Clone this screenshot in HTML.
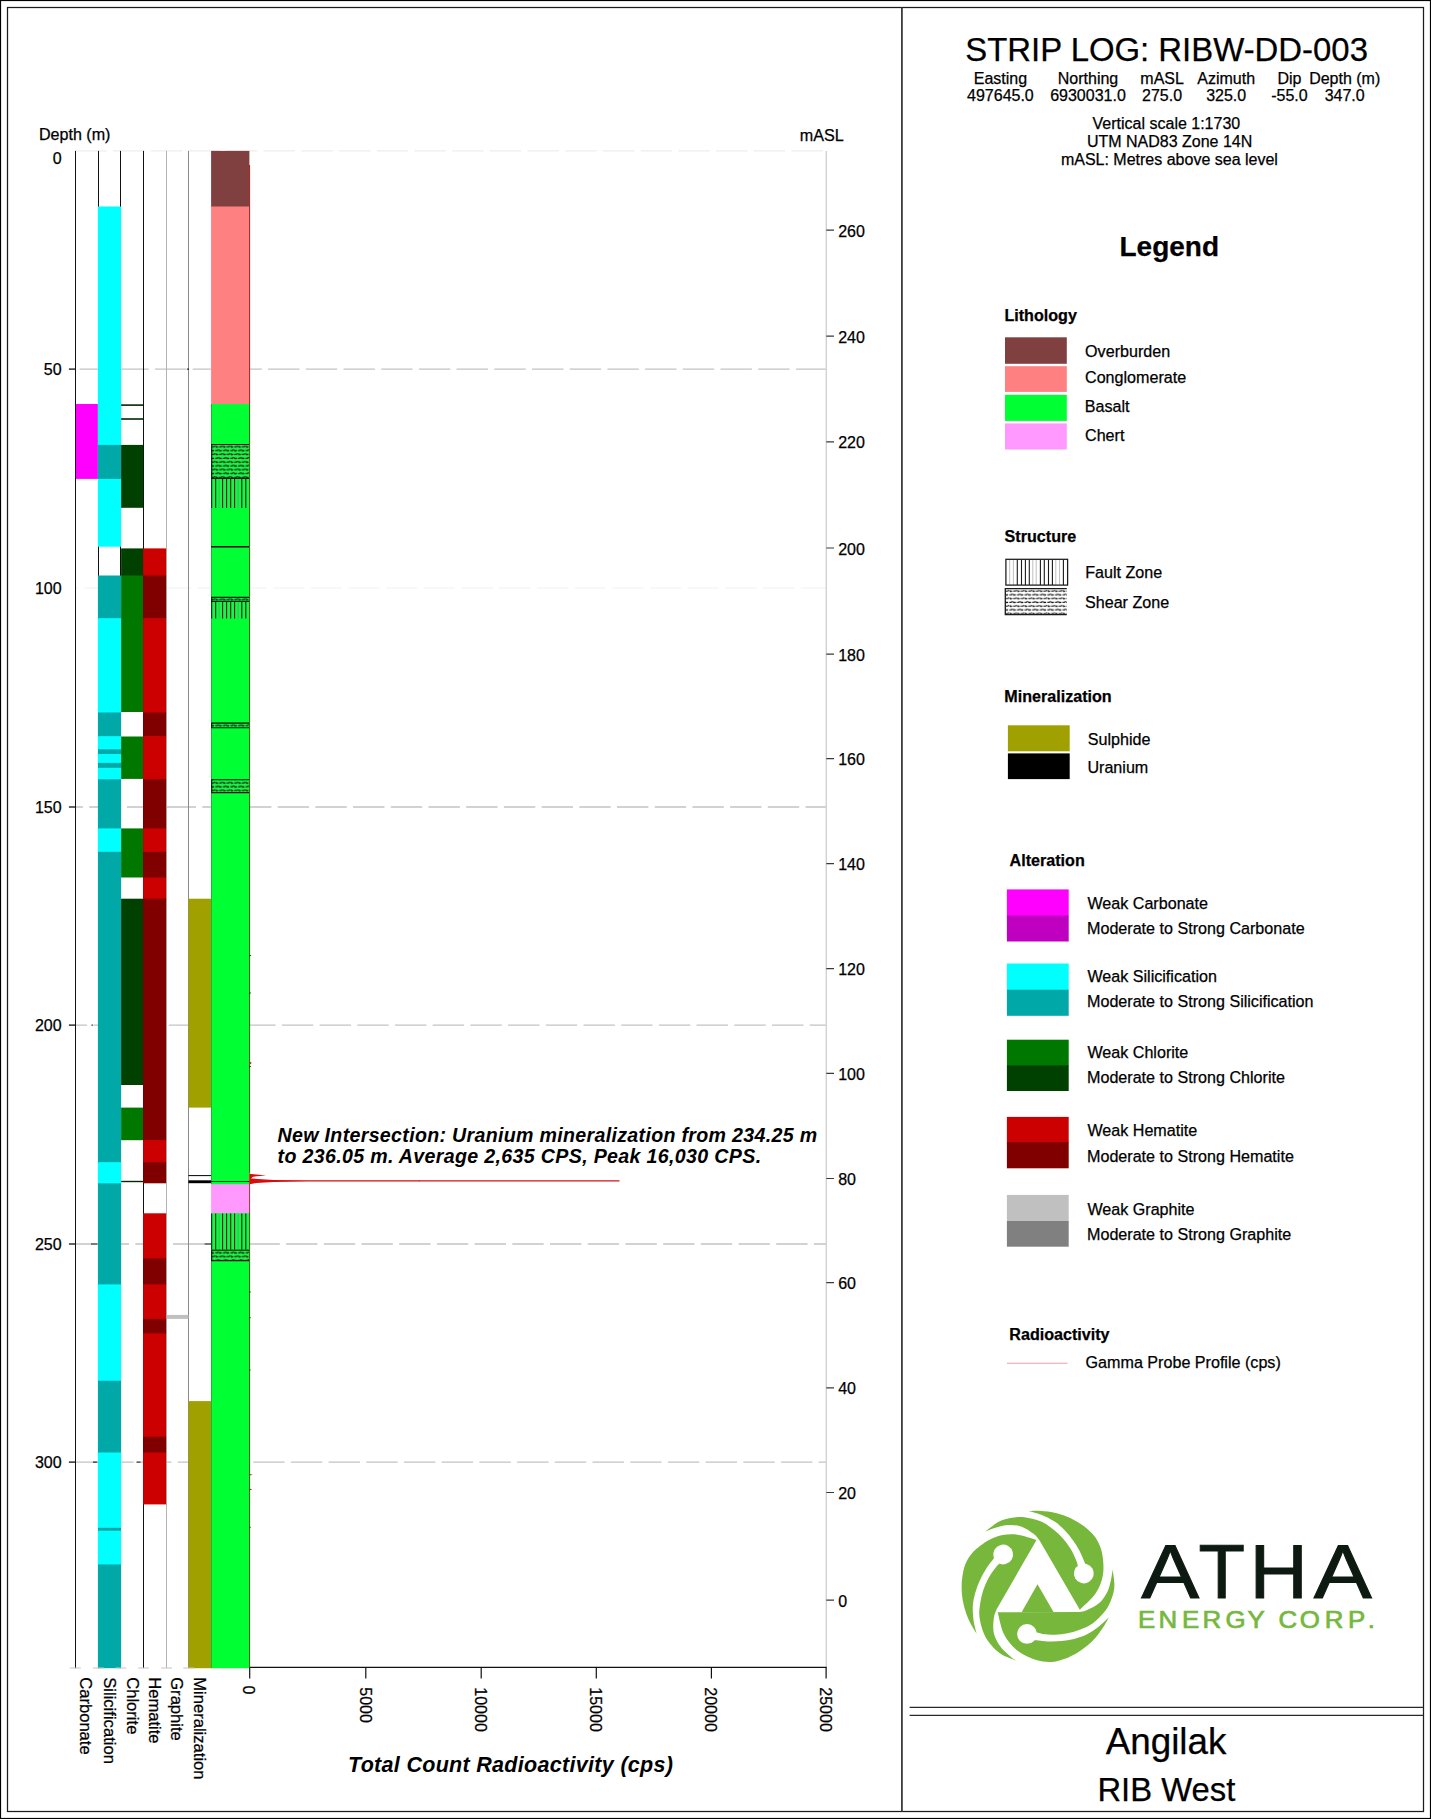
<!DOCTYPE html>
<html lang="en"><head><meta charset="utf-8"><title>STRIP LOG: RIBW-DD-003</title>
<style>html,body{margin:0;padding:0;background:#fff}body{width:1431px;height:1819px;overflow:hidden}svg{display:block}</style>
</head><body>
<svg width="1431" height="1819" viewBox="0 0 1431 1819">
<rect width="1431" height="1819" fill="#fff"/>
<defs>
<clipPath id="cg"><rect x="75.6" y="0" width="751" height="1819"/></clipPath>
<pattern id="shearP" patternUnits="userSpaceOnUse" x="211.1" y="444.6" width="7.6" height="7.64">
<path d="M0.4 2.3L2.8 2.0L3.6 1.3M4.4 1.4L5.2 2.4L7.0 2.3M0.2 5.4L1.0 6.2L3.0 6.1M4.2 6.1L6.4 5.8L7.2 5.1" stroke="#001500" stroke-width="1.2" fill="none"/>
</pattern>
<pattern id="shearL" patternUnits="userSpaceOnUse" x="1005.2" y="588.9" width="7.6" height="7.52">
<path d="M0.4 2.3L2.8 2.0L3.6 1.3M4.4 1.4L5.2 2.4L7.0 2.3M0.2 5.3L1.0 6.1L3.0 6.0M4.2 6.0L6.4 5.7L7.2 5.0" stroke="#111" stroke-width="1.2" fill="none"/>
</pattern>
</defs>
<g id="grid" fill="none">
<line x1="37.5" y1="150.9" x2="826" y2="150.9" stroke="#ededed" stroke-width="1.3" stroke-dasharray="31.4 6.3" clip-path="url(#cg)"/>
<line x1="41.9" y1="369.1" x2="826" y2="369.1" stroke="#c4c4c4" stroke-width="1.3" stroke-dasharray="31.4 6.3" clip-path="url(#cg)"/>
<line x1="46.7" y1="588.0" x2="826" y2="588.0" stroke="#f6f6f6" stroke-width="1.3" stroke-dasharray="31.4 6.3" clip-path="url(#cg)"/>
<line x1="51.5" y1="807.0" x2="826" y2="807.0" stroke="#c4c4c4" stroke-width="1.3" stroke-dasharray="31.4 6.3" clip-path="url(#cg)"/>
<line x1="55.7" y1="1025.1" x2="826" y2="1025.1" stroke="#c4c4c4" stroke-width="1.3" stroke-dasharray="31.4 6.3" clip-path="url(#cg)"/>
<line x1="59.9" y1="1244.0" x2="826" y2="1244.0" stroke="#c4c4c4" stroke-width="1.3" stroke-dasharray="31.4 6.3" clip-path="url(#cg)"/>
<line x1="64.7" y1="1462.1" x2="826" y2="1462.1" stroke="#c4c4c4" stroke-width="1.3" stroke-dasharray="31.4 6.3" clip-path="url(#cg)"/>
</g>
<g id="collines">
<line x1="75.5" y1="150.9" x2="75.5" y2="1668.2" stroke="#111" stroke-width="1"/>
<line x1="98.5" y1="150.9" x2="98.5" y2="1668.2" stroke="#111" stroke-width="1"/>
<line x1="120.5" y1="150.9" x2="120.5" y2="1668.2" stroke="#111" stroke-width="1"/>
<line x1="143.5" y1="150.9" x2="143.5" y2="1668.2" stroke="#111" stroke-width="1"/>
<line x1="166.5" y1="150.9" x2="166.5" y2="1668.2" stroke="#b4b4b4" stroke-width="1"/>
<line x1="188.5" y1="150.9" x2="188.5" y2="1668.2" stroke="#8a8a8a" stroke-width="1"/>
<line x1="826.3" y1="150.9" x2="826.3" y2="1668.2" stroke="#d2d2d2" stroke-width="1.4"/>
</g>
<g id="fills">
<rect x="75.90" y="404.00" width="22.00" height="74.90" fill="#FF00FF" stroke="none"/>
<rect x="97.90" y="206.50" width="23.20" height="239.10" fill="#00FFFF" stroke="none"/>
<rect x="97.90" y="444.90" width="23.20" height="34.70" fill="#00A8A8" stroke="none"/>
<rect x="97.90" y="478.90" width="23.20" height="67.80" fill="#00FFFF" stroke="none"/>
<rect x="97.90" y="575.50" width="23.20" height="43.40" fill="#00A8A8" stroke="none"/>
<rect x="97.90" y="618.20" width="23.20" height="95.00" fill="#00FFFF" stroke="none"/>
<rect x="97.90" y="712.50" width="23.20" height="24.40" fill="#00A8A8" stroke="none"/>
<rect x="97.90" y="736.20" width="23.20" height="13.80" fill="#00FFFF" stroke="none"/>
<rect x="97.90" y="749.30" width="23.20" height="5.40" fill="#00A8A8" stroke="none"/>
<rect x="97.90" y="754.00" width="23.20" height="9.60" fill="#00FFFF" stroke="none"/>
<rect x="97.90" y="762.90" width="23.20" height="5.60" fill="#00A8A8" stroke="none"/>
<rect x="97.90" y="767.80" width="23.20" height="12.20" fill="#00FFFF" stroke="none"/>
<rect x="97.90" y="779.30" width="23.20" height="49.80" fill="#00A8A8" stroke="none"/>
<rect x="97.90" y="828.40" width="23.20" height="24.10" fill="#00FFFF" stroke="none"/>
<rect x="97.90" y="851.80" width="23.20" height="311.10" fill="#00A8A8" stroke="none"/>
<rect x="97.90" y="1162.20" width="23.20" height="21.80" fill="#00FFFF" stroke="none"/>
<rect x="97.90" y="1183.30" width="23.20" height="101.80" fill="#00A8A8" stroke="none"/>
<rect x="97.90" y="1284.40" width="23.20" height="97.00" fill="#00FFFF" stroke="none"/>
<rect x="97.90" y="1380.70" width="23.20" height="72.50" fill="#00A8A8" stroke="none"/>
<rect x="97.90" y="1452.50" width="23.20" height="76.00" fill="#00FFFF" stroke="none"/>
<rect x="97.90" y="1527.80" width="23.20" height="3.60" fill="#00A8A8" stroke="none"/>
<rect x="97.90" y="1530.70" width="23.20" height="34.40" fill="#00FFFF" stroke="none"/>
<rect x="97.90" y="1564.40" width="23.20" height="103.80" fill="#00A8A8" stroke="none"/>
<rect x="121.10" y="404.30" width="22.00" height="1.60" fill="#002a00" stroke="none"/>
<rect x="121.10" y="418.20" width="22.00" height="1.60" fill="#002a00" stroke="none"/>
<rect x="121.10" y="444.90" width="22.00" height="62.90" fill="#004000" stroke="none"/>
<rect x="121.10" y="548.40" width="22.00" height="27.80" fill="#004000" stroke="none"/>
<rect x="121.10" y="575.50" width="22.00" height="136.50" fill="#007800" stroke="none"/>
<rect x="121.10" y="736.50" width="22.00" height="42.40" fill="#007800" stroke="none"/>
<rect x="121.10" y="828.40" width="22.00" height="49.10" fill="#007800" stroke="none"/>
<rect x="121.10" y="898.70" width="22.00" height="186.30" fill="#004000" stroke="none"/>
<rect x="121.10" y="1107.60" width="22.00" height="32.60" fill="#007800" stroke="none"/>
<rect x="121.10" y="1180.80" width="22.00" height="1.40" fill="#002a00" stroke="none"/>
<rect x="143.10" y="548.40" width="23.00" height="27.80" fill="#CC0000" stroke="none"/>
<rect x="143.10" y="575.50" width="23.00" height="43.40" fill="#800000" stroke="none"/>
<rect x="143.10" y="618.20" width="23.00" height="95.00" fill="#CC0000" stroke="none"/>
<rect x="143.10" y="712.50" width="23.00" height="24.40" fill="#800000" stroke="none"/>
<rect x="143.10" y="736.20" width="23.00" height="43.80" fill="#CC0000" stroke="none"/>
<rect x="143.10" y="779.30" width="23.00" height="49.80" fill="#800000" stroke="none"/>
<rect x="143.10" y="828.40" width="23.00" height="24.10" fill="#CC0000" stroke="none"/>
<rect x="143.10" y="851.80" width="23.00" height="26.40" fill="#800000" stroke="none"/>
<rect x="143.10" y="877.50" width="23.00" height="21.90" fill="#CC0000" stroke="none"/>
<rect x="143.10" y="898.70" width="23.00" height="242.20" fill="#800000" stroke="none"/>
<rect x="143.10" y="1140.20" width="23.00" height="22.70" fill="#CC0000" stroke="none"/>
<rect x="143.10" y="1162.20" width="23.00" height="21.10" fill="#800000" stroke="none"/>
<rect x="143.10" y="1213.30" width="23.00" height="45.80" fill="#CC0000" stroke="none"/>
<rect x="143.10" y="1258.40" width="23.00" height="26.70" fill="#800000" stroke="none"/>
<rect x="143.10" y="1284.40" width="23.00" height="35.20" fill="#CC0000" stroke="none"/>
<rect x="143.10" y="1318.90" width="23.00" height="15.10" fill="#800000" stroke="none"/>
<rect x="143.10" y="1333.30" width="23.00" height="104.10" fill="#CC0000" stroke="none"/>
<rect x="143.10" y="1436.70" width="23.00" height="16.50" fill="#800000" stroke="none"/>
<rect x="143.10" y="1452.50" width="23.00" height="51.90" fill="#CC0000" stroke="none"/>
<rect x="167.00" y="1314.90" width="21.40" height="4.00" fill="#C0C0C0" stroke="none"/>
<rect x="188.40" y="898.70" width="22.70" height="208.90" fill="#A0A000" stroke="none"/>
<rect x="188.40" y="1175.10" width="22.70" height="1.00" fill="#000" stroke="none"/>
<rect x="188.40" y="1180.30" width="22.70" height="2.90" fill="#000" stroke="none"/>
<rect x="188.40" y="1401.10" width="22.70" height="267.10" fill="#A0A000" stroke="none"/>
<rect x="211.10" y="150.90" width="38.30" height="56.30" fill="#804040" stroke="none"/>
<rect x="211.10" y="206.50" width="38.30" height="198.20" fill="#FF8080" stroke="none"/>
<rect x="211.10" y="404.00" width="38.30" height="780.90" fill="#00FF33" stroke="none"/>
<rect x="211.10" y="1184.20" width="38.30" height="30.00" fill="#FF99FF" stroke="none"/>
<rect x="211.10" y="1213.50" width="38.30" height="454.70" fill="#00FF33" stroke="none"/>
</g>
<g id="struct">
<path d="M211.5 404V1184M211.5 1213.5V1668.2" stroke="#0fa82c" stroke-width="0.8" fill="none"/>
<rect x="211.1" y="444.1" width="38.3" height="34.2" fill="#22f04a"/>
<rect x="211.1" y="444.1" width="38.3" height="34.2" fill="url(#shearP)"/>
<path d="M211.7 478.3V444.1M211.1 444.5H249.4" stroke="#021a05" stroke-width="1.1" fill="none"/>
<rect x="211.1" y="478.3" width="38.3" height="29.6" fill="#22f04a"/>
<path d="M211.7 478.3V507.9M215.7 478.3V507.9M222.6 478.3V507.9M226.6 478.3V507.9M230.7 478.3V507.9M234.6 478.3V507.9M241.8 478.3V507.9M245.8 478.3V507.9" stroke="#032a08" stroke-width="1.05" fill="none"/>
<path d="M219.0 478.3V507.9M238.1 478.3V507.9" stroke="#19c43a" stroke-width="0.8" fill="none"/>
<path d="M211.1 478.3H249.4" stroke="#021" stroke-width="1.3" fill="none"/>
<path d="M211.1 546.7H249.4" stroke="#010" stroke-width="1.6"/>
<rect x="211.1" y="597.0" width="38.3" height="4.3" fill="#22f04a"/>
<rect x="211.1" y="597.0" width="38.3" height="4.3" fill="url(#shearP)"/>
<path d="M211.7 601.3V597.0M211.1 597.4H249.4" stroke="#021a05" stroke-width="1.1" fill="none"/>
<rect x="211.1" y="601.3" width="38.3" height="17.1" fill="#22f04a"/>
<path d="M211.7 601.3V618.4M215.7 601.3V618.4M222.6 601.3V618.4M226.6 601.3V618.4M230.7 601.3V618.4M234.6 601.3V618.4M241.8 601.3V618.4M245.8 601.3V618.4" stroke="#032a08" stroke-width="1.05" fill="none"/>
<path d="M219.0 601.3V618.4M238.1 601.3V618.4" stroke="#19c43a" stroke-width="0.8" fill="none"/>
<path d="M211.1 601.3H249.4" stroke="#021" stroke-width="1.3" fill="none"/>
<rect x="211.1" y="722.7" width="38.3" height="5.3" fill="#22f04a"/>
<rect x="211.1" y="722.7" width="38.3" height="5.3" fill="url(#shearP)"/>
<path d="M211.7 728.0V722.7M211.1 723.1H249.4M211.1 727.7H249.4" stroke="#021a05" stroke-width="1.1" fill="none"/>
<rect x="211.1" y="779.3" width="38.3" height="13.6" fill="#22f04a"/>
<rect x="211.1" y="779.3" width="38.3" height="13.6" fill="url(#shearP)"/>
<path d="M211.7 792.9V779.3M211.1 779.7H249.4M211.1 792.6H249.4" stroke="#021a05" stroke-width="1.1" fill="none"/>
<rect x="211.1" y="1213.5" width="38.3" height="36.3" fill="#22f04a"/>
<path d="M211.7 1213.5V1249.8M215.7 1213.5V1249.8M222.6 1213.5V1249.8M226.6 1213.5V1249.8M230.7 1213.5V1249.8M234.6 1213.5V1249.8M241.8 1213.5V1249.8M245.8 1213.5V1249.8" stroke="#032a08" stroke-width="1.05" fill="none"/>
<path d="M219.0 1213.5V1249.8M238.1 1213.5V1249.8" stroke="#19c43a" stroke-width="0.8" fill="none"/>
<rect x="211.1" y="1249.8" width="38.3" height="11.1" fill="#22f04a"/>
<rect x="211.1" y="1249.8" width="38.3" height="11.1" fill="url(#shearP)"/>
<path d="M211.7 1260.9V1249.8M211.1 1250.2H249.4M211.1 1260.6H249.4" stroke="#021a05" stroke-width="1.1" fill="none"/>
<path d="M211.1 1181.5H249.4" stroke="#043a0a" stroke-width="1.2"/>
</g>
<g id="axes" fill="none">
<line x1="68.9" y1="369.1" x2="76" y2="369.1" stroke="#111" stroke-width="1.3"/>
<line x1="68.9" y1="807.0" x2="76" y2="807.0" stroke="#111" stroke-width="1.3"/>
<line x1="68.9" y1="1025.1" x2="76" y2="1025.1" stroke="#111" stroke-width="1.3"/>
<line x1="68.9" y1="1244.0" x2="76" y2="1244.0" stroke="#111" stroke-width="1.3"/>
<line x1="68.9" y1="1462.1" x2="76" y2="1462.1" stroke="#111" stroke-width="1.3"/>
<line x1="187" y1="369.1" x2="189" y2="369.1" stroke="#222" stroke-width="1.2"/>
<line x1="91.5" y1="1025.1" x2="92.8" y2="1025.1" stroke="#222" stroke-width="1.2"/>
<line x1="91" y1="1244.0" x2="97.5" y2="1244.0" stroke="#222" stroke-width="1.2"/>
<line x1="204.5" y1="1244.0" x2="211" y2="1244.0" stroke="#222" stroke-width="1.2"/>
<line x1="93" y1="1462.1" x2="97.5" y2="1462.1" stroke="#222" stroke-width="1.2"/>
<line x1="136.5" y1="1462.1" x2="140.5" y2="1462.1" stroke="#222" stroke-width="1.2"/>
<path d="M70.1 1668.0h10.8M93.0 1668.0h10.8M115.5 1668.0h10.8M138.2 1668.0h10.8M161.2 1668.0h10.8M183.3 1668.0h10.8" stroke="#c6c6c6" stroke-width="1.2"/>
<path d="M249.4 1667.3H826.6" stroke="#111" stroke-width="1.2"/>
<path d="M249.7 1667.2V1678.4M365.8 1667.2V1678.4M481.2 1667.2V1678.4M596.3 1667.2V1678.4M711.4 1667.2V1678.4M826.1 1667.2V1678.4" stroke="#111" stroke-width="1.2"/>
<path d="M826.3 230.2H834M826.3 336.2H834M826.3 441.9H834M826.3 548.0H834M826.3 654.1H834M826.3 758.7H834M826.3 863.6H834M826.3 968.7H834M826.3 1073.3H834M826.3 1178.5H834M826.3 1282.7H834M826.3 1387.9H834M826.3 1492.5H834M826.3 1600.1H834" stroke="#3a3a3a" stroke-width="1.2"/>
</g>
<path d="M249.6 165V404" stroke="#a51d1d" stroke-width="1" fill="none"/>
<path d="M249.6 404V1173M249.6 1213V1668.2" stroke="#3f5a0a" stroke-width="1" fill="none"/>
<path d="M249.6 1184V1213.3" stroke="#8a3a3a" stroke-width="1" fill="none"/>
<path d="M249.4 954.8L251.6 955.6L249.4 956.5Z" fill="#402010"/>
<path d="M249.4 992.1L251.3 993.0L249.4 993.9Z" fill="#402010"/>
<path d="M249.4 1061.2L251.8 1063.0L249.4 1064.8Z" fill="#c81e1e"/>
<path d="M249.4 1065.7L251.5 1066.5L249.4 1067.3Z" fill="#301808"/>
<path d="M249.4 1291.2L251.4 1292.0L249.4 1292.8Z" fill="#402010"/>
<path d="M249.4 1317.0L251.3 1317.8L249.4 1318.6Z" fill="#402010"/>
<path d="M249.4 1369.2L251.1 1370.0L249.4 1370.8Z" fill="#402010"/>
<path d="M249.4 1474.0L252.8 1474.8L249.4 1475.6Z" fill="#b01818"/>
<path d="M249.4 1488.6L252.3 1489.4L249.4 1490.2Z" fill="#b01818"/>
<path d="M249.4 1526.5L251.4 1527.3L249.4 1528.1Z" fill="#802018"/>
<path d="M249.2 1173.2L251 1173.9L266 1175.4L253 1176.7L251 1178.4L258 1179.0L273.6 1179.9L307 1180.25L420 1180.3L420 1181.4L307 1181.5L273.6 1182.0L256.8 1182.9L251 1183.9L249.2 1184.2Z" fill="#dc0a0a"/>
<path d="M419.5 1180.85H619.5" stroke="#d41212" stroke-width="1.12" fill="none"/>
<g id="plottext" font-family="Liberation Sans, Arial, Helvetica, sans-serif" font-size="16" fill="#000" stroke="#000" stroke-width="0.25">
<text x="38.9" y="140.4" font-size="16.1">Depth (m)</text>
<text x="799.7" y="140.8" font-size="16.15">mASL</text>
<text x="61.6" y="164.3" text-anchor="end">0</text>
<text x="61.6" y="375.3" text-anchor="end">50</text>
<text x="61.6" y="594.4" text-anchor="end">100</text>
<text x="61.6" y="813.2" text-anchor="end">150</text>
<text x="61.6" y="1031.3" text-anchor="end">200</text>
<text x="61.6" y="1250.2" text-anchor="end">250</text>
<text x="61.6" y="1468.3" text-anchor="end">300</text>
<text x="838.2" y="236.7">260</text>
<text x="838.2" y="342.7">240</text>
<text x="838.2" y="448.4">220</text>
<text x="838.2" y="554.5">200</text>
<text x="838.2" y="660.6">180</text>
<text x="838.2" y="765.2">160</text>
<text x="838.2" y="870.1">140</text>
<text x="838.2" y="975.2">120</text>
<text x="838.2" y="1079.8">100</text>
<text x="838.2" y="1185.0">80</text>
<text x="838.2" y="1289.2">60</text>
<text x="838.2" y="1394.4">40</text>
<text x="838.2" y="1499.0">20</text>
<text x="838.2" y="1606.6">0</text>
<text transform="translate(80.1 1677.2) rotate(90)" font-size="16.6">Carbonate</text>
<text transform="translate(103.7 1677.2) rotate(90)" font-size="16.6">Silicification</text>
<text transform="translate(126.8 1677.2) rotate(90)" font-size="16.6">Chlorite</text>
<text transform="translate(149.0 1677.2) rotate(90)" font-size="16.6">Hematite</text>
<text transform="translate(171.0 1677.2) rotate(90)" font-size="16.6">Graphite</text>
<text transform="translate(194.0 1677.2) rotate(90)" font-size="16.6">Mineralization</text>
<text transform="translate(243.1 1685.6) rotate(90)">0</text>
<text transform="translate(359.8 1687.3) rotate(90)">5000</text>
<text transform="translate(475.2 1687.3) rotate(90)">10000</text>
<text transform="translate(590.3 1687.3) rotate(90)">15000</text>
<text transform="translate(705.4 1687.3) rotate(90)">20000</text>
<text transform="translate(820.1 1687.3) rotate(90)">25000</text>
</g>
<g font-family="Liberation Sans, Arial, Helvetica, sans-serif" font-weight="bold" font-style="italic" fill="#000">
<text x="277.6" y="1141.7" font-size="19.6" textLength="539.5" lengthAdjust="spacing">New Intersection: Uranium mineralization from 234.25 m</text>
<text x="277.6" y="1162.8" font-size="19.6" textLength="483.5" lengthAdjust="spacing">to 236.05 m. Average 2,635 CPS, Peak 16,030 CPS.</text>
<text x="348" y="1771.7" font-size="21.5" textLength="325" lengthAdjust="spacing">Total Count Radioactivity (cps)</text>
</g>
<g id="frame" fill="none">
<rect x="0.5" y="0.5" width="1430" height="1818" stroke="#000" stroke-width="1.2"/>
<rect x="7.5" y="7.5" width="1416" height="1804" stroke="#1c1c1c" stroke-width="1.25"/>
<line x1="901.9" y1="7.5" x2="901.9" y2="1811.5" stroke="#3c3c3c" stroke-width="1.8"/>
<path d="M909.6 1707.3H1423.5M909.6 1715.4H1423.5" stroke="#2a2a2a" stroke-width="1.15"/>
</g>
<g id="hdr" font-family="Liberation Sans, Arial, Helvetica, sans-serif" fill="#000" text-anchor="middle" stroke="#000" stroke-width="0.25">
<text x="1166.6" y="61.2" font-size="32.9">STRIP LOG: RIBW-DD-003</text>
<g font-size="16">
<text x="1000.4" y="83.6">Easting</text><text x="1000.4" y="100.6">497645.0</text>
<text x="1088.0" y="83.6">Northing</text><text x="1088.0" y="100.6">6930031.0</text>
<text x="1162.1" y="83.6">mASL</text><text x="1162.1" y="100.6">275.0</text>
<text x="1226.2" y="83.6">Azimuth</text><text x="1226.2" y="100.6">325.0</text>
<text x="1289.4" y="83.6">Dip</text><text x="1289.4" y="100.6">-55.0</text>
<text x="1344.7" y="83.6">Depth (m)</text><text x="1344.7" y="100.6">347.0</text>
<text x="1166.4" y="128.8">Vertical scale 1:1730</text>
<text x="1169.6" y="147.2">UTM NAD83 Zone 14N</text>
<text x="1169.4" y="164.6">mASL: Metres above sea level</text>
</g>
<text x="1169.3" y="255.9" font-size="28" font-weight="bold">Legend</text>
<text x="1166" y="1753.9" font-size="36.8">Angilak</text>
<text x="1166.4" y="1800.9" font-size="32.8">RIB West</text>
</g>
<g id="legend" font-family="Liberation Sans, Arial, Helvetica, sans-serif" fill="#000" font-size="16.12" stroke="#000" stroke-width="0.25">
<text x="1004.4" y="320.9" font-weight="bold">Lithology</text>
<text x="1004.6" y="541.6" font-weight="bold">Structure</text>
<text x="1004.3" y="702.4" font-weight="bold">Mineralization</text>
<text x="1009.6" y="866.2" font-weight="bold">Alteration</text>
<text x="1009.3" y="1339.8" font-weight="bold">Radioactivity</text>
<rect x="1005.00" y="337.30" width="61.80" height="26.50" fill="#804040" stroke="none"/>
<text x="1085.1" y="356.9">Overburden</text>
<rect x="1005.00" y="366.20" width="61.80" height="25.70" fill="#FF8080" stroke="none"/>
<text x="1085.0" y="383.4">Conglomerate</text>
<rect x="1005.00" y="394.80" width="61.80" height="26.10" fill="#00FF33" stroke="none"/>
<text x="1084.8" y="412.3">Basalt</text>
<rect x="1005.00" y="423.40" width="61.80" height="26.10" fill="#FF99FF" stroke="none"/>
<text x="1085.0" y="441.2">Chert</text>
<rect x="1007.90" y="725.30" width="61.80" height="26.00" fill="#A0A000" stroke="none"/>
<text x="1087.8" y="744.7">Sulphide</text>
<rect x="1007.90" y="753.40" width="61.80" height="25.70" fill="#000" stroke="none"/>
<text x="1087.4" y="772.8">Uranium</text>
<rect x="1006.90" y="889.40" width="61.80" height="26.90" fill="#FF00FF" stroke="none"/>
<text x="1087.4" y="908.8">Weak Carbonate</text>
<rect x="1006.90" y="915.60" width="61.80" height="25.90" fill="#C000C0" stroke="none"/>
<text x="1087.0" y="934.4">Moderate to Strong Carbonate</text>
<rect x="1006.90" y="963.50" width="61.80" height="26.90" fill="#00FFFF" stroke="none"/>
<text x="1087.4" y="982.0">Weak Silicification</text>
<rect x="1006.90" y="989.70" width="61.80" height="26.10" fill="#00A8A8" stroke="none"/>
<text x="1087.0" y="1007.4">Moderate to Strong Silicification</text>
<rect x="1006.90" y="1039.70" width="61.80" height="26.40" fill="#007800" stroke="none"/>
<text x="1087.4" y="1057.7">Weak Chlorite</text>
<rect x="1006.90" y="1065.40" width="61.80" height="25.60" fill="#004000" stroke="none"/>
<text x="1087.0" y="1083.3">Moderate to Strong Chlorite</text>
<rect x="1006.90" y="1116.90" width="61.80" height="25.90" fill="#CC0000" stroke="none"/>
<text x="1087.4" y="1136.1">Weak Hematite</text>
<rect x="1006.90" y="1142.10" width="61.80" height="26.20" fill="#800000" stroke="none"/>
<text x="1087.0" y="1161.7">Moderate to Strong Hematite</text>
<rect x="1006.90" y="1194.90" width="61.80" height="26.80" fill="#C0C0C0" stroke="none"/>
<text x="1087.4" y="1214.5">Weak Graphite</text>
<rect x="1006.90" y="1221.00" width="61.80" height="25.70" fill="#808080" stroke="none"/>
<text x="1087.0" y="1240.1">Moderate to Strong Graphite</text>
<text x="1085.2" y="577.8">Fault Zone</text><text x="1085.0" y="607.8">Shear Zone</text>
<text x="1085.6" y="1368.3">Gamma Probe Profile (cps)</text>
<line x1="1006.9" y1="1363.2" x2="1067.5" y2="1363.2" stroke="#e9a3a3" stroke-width="1.1"/>
<path d="M1009.7 559.4V585M1013.4 559.4V585M1032.8 559.4V585M1036.2 559.4V585M1055.8 559.4V585M1059.5 559.4V585" stroke="#b8b8b8" stroke-width="0.9" fill="none"/>
<path d="M1017.3 559.4V585M1021.5 559.4V585M1025.4 559.4V585M1029.3 559.4V585M1040.4 559.4V585M1044.3 559.4V585M1048.5 559.4V585M1052.4 559.4V585M1063.4 559.4V585" stroke="#1a1a1a" stroke-width="1.1" fill="none"/>
<rect x="1005.9" y="559.3" width="61.7" height="25.8" fill="none" stroke="#1a1a1a" stroke-width="1.25"/>
<rect x="1005.2" y="588.6" width="61.6" height="26.1" fill="url(#shearL)" stroke="none"/>
<path d="M1066.8 588.7H1005.3V614.6H1066.8" fill="none" stroke="#1a1a1a" stroke-width="1.3"/>
</g>
<g id="logo" transform="translate(1038 1587.3)">
<g transform="rotate(0)"><path d="M-40.3 25.0L39.8 24.8C41.27 24.48 45.03 24.40 48.60 22.90C52.17 21.40 57.73 18.88 61.20 15.80C64.67 12.72 67.42 8.38 69.40 4.40C71.38 0.42 72.23 -4.40 73.10 -8.10C73.97 -11.80 74.35 -16.18 74.60 -17.80C74.90 -15.13 76.53 -6.55 76.40 -1.80C76.27 2.95 75.28 6.52 73.80 10.70C72.32 14.88 70.65 19.10 67.50 23.30C64.35 27.50 59.10 32.75 54.90 35.90C50.70 39.05 46.50 40.52 42.30 42.20C38.10 43.88 33.88 45.12 29.70 46.00C25.52 46.88 21.38 47.40 17.20 47.50C13.02 47.60 7.97 47.05 4.60 46.60C1.23 46.15 -1.73 45.10 -3.00 44.80L-4.0 52.6C-1.52 52.87 6.33 54.00 10.90 54.20C15.47 54.40 19.22 54.23 23.40 53.80C27.58 53.37 31.80 52.70 36.00 51.60C40.20 50.50 44.40 49.30 48.60 47.20C52.80 45.10 57.50 41.87 61.20 39.00C64.90 36.13 69.20 31.50 70.80 30.00C70.06 31.38 68.38 35.12 66.34 38.30C64.29 41.48 61.40 45.74 58.53 49.11C55.65 52.48 52.50 55.68 49.11 58.53C45.72 61.37 42.03 63.95 38.20 66.16C34.37 68.38 30.30 70.36 26.13 71.79C21.96 73.22 17.96 74.62 13.18 74.75C8.40 74.87 3.23 74.56 -2.53 72.56C-8.30 70.55 -16.16 66.96 -21.40 62.70C-26.64 58.44 -30.85 53.28 -34.00 47.00C-37.15 40.72 -39.25 28.67 -40.30 25.00Z" fill="#77b83c"/><circle cx="-11" cy="46.6" r="9.9" fill="#fff"/></g>
<g transform="rotate(120)"><path d="M-40.3 25.0L39.8 24.8C41.27 24.48 45.03 24.40 48.60 22.90C52.17 21.40 57.73 18.88 61.20 15.80C64.67 12.72 67.42 8.38 69.40 4.40C71.38 0.42 72.23 -4.40 73.10 -8.10C73.97 -11.80 74.35 -16.18 74.60 -17.80C74.90 -15.13 76.53 -6.55 76.40 -1.80C76.27 2.95 75.28 6.52 73.80 10.70C72.32 14.88 70.65 19.10 67.50 23.30C64.35 27.50 59.10 32.75 54.90 35.90C50.70 39.05 46.50 40.52 42.30 42.20C38.10 43.88 33.88 45.12 29.70 46.00C25.52 46.88 21.38 47.40 17.20 47.50C13.02 47.60 7.97 47.05 4.60 46.60C1.23 46.15 -1.73 45.10 -3.00 44.80L-4.0 52.6C-1.52 52.87 6.33 54.00 10.90 54.20C15.47 54.40 19.22 54.23 23.40 53.80C27.58 53.37 31.80 52.70 36.00 51.60C40.20 50.50 44.40 49.30 48.60 47.20C52.80 45.10 57.50 41.87 61.20 39.00C64.90 36.13 69.20 31.50 70.80 30.00C70.06 31.38 68.38 35.12 66.34 38.30C64.29 41.48 61.40 45.74 58.53 49.11C55.65 52.48 52.50 55.68 49.11 58.53C45.72 61.37 42.03 63.95 38.20 66.16C34.37 68.38 30.30 70.36 26.13 71.79C21.96 73.22 17.96 74.62 13.18 74.75C8.40 74.87 3.23 74.56 -2.53 72.56C-8.30 70.55 -16.16 66.96 -21.40 62.70C-26.64 58.44 -30.85 53.28 -34.00 47.00C-37.15 40.72 -39.25 28.67 -40.30 25.00Z" fill="#77b83c"/><circle cx="-11" cy="46.6" r="9.9" fill="#fff"/></g>
<g transform="rotate(240)"><path d="M-40.3 25.0L39.8 24.8C41.27 24.48 45.03 24.40 48.60 22.90C52.17 21.40 57.73 18.88 61.20 15.80C64.67 12.72 67.42 8.38 69.40 4.40C71.38 0.42 72.23 -4.40 73.10 -8.10C73.97 -11.80 74.35 -16.18 74.60 -17.80C74.90 -15.13 76.53 -6.55 76.40 -1.80C76.27 2.95 75.28 6.52 73.80 10.70C72.32 14.88 70.65 19.10 67.50 23.30C64.35 27.50 59.10 32.75 54.90 35.90C50.70 39.05 46.50 40.52 42.30 42.20C38.10 43.88 33.88 45.12 29.70 46.00C25.52 46.88 21.38 47.40 17.20 47.50C13.02 47.60 7.97 47.05 4.60 46.60C1.23 46.15 -1.73 45.10 -3.00 44.80L-4.0 52.6C-1.52 52.87 6.33 54.00 10.90 54.20C15.47 54.40 19.22 54.23 23.40 53.80C27.58 53.37 31.80 52.70 36.00 51.60C40.20 50.50 44.40 49.30 48.60 47.20C52.80 45.10 57.50 41.87 61.20 39.00C64.90 36.13 69.20 31.50 70.80 30.00C70.06 31.38 68.38 35.12 66.34 38.30C64.29 41.48 61.40 45.74 58.53 49.11C55.65 52.48 52.50 55.68 49.11 58.53C45.72 61.37 42.03 63.95 38.20 66.16C34.37 68.38 30.30 70.36 26.13 71.79C21.96 73.22 17.96 74.62 13.18 74.75C8.40 74.87 3.23 74.56 -2.53 72.56C-8.30 70.55 -16.16 66.96 -21.40 62.70C-26.64 58.44 -30.85 53.28 -34.00 47.00C-37.15 40.72 -39.25 28.67 -40.30 25.00Z" fill="#77b83c"/><circle cx="-11" cy="46.6" r="9.9" fill="#fff"/></g>
<path d="M-0.5 -3.0L15.7 24.9L-16.4 24.9Z" fill="#77b83c"/>
</g>
<g font-family="Liberation Sans, Arial, Helvetica, sans-serif" font-size="76.5" fill="#0d1a12" stroke="#0d1a12" stroke-width="1">
<text transform="translate(1141.2 1597.5) scale(1.135 1)">A</text>
<text transform="translate(1198.5 1597.5) scale(0.995 1)">T</text>
<text transform="translate(1249.6 1597.5) scale(1.056 1)">H</text>
<text transform="translate(1313.7 1597.5) scale(1.138 1)">A</text>
</g>
<text font-family="Liberation Sans, Arial, Helvetica, sans-serif" transform="translate(0 1628.3) scale(1.1 1)" x="1034.45 1053.08 1074.45 1093.08 1114.10 1134.20 1152.73 1162.34 1181.52 1204.36 1225.45 1243.41" font-size="23.5" fill="#76b83f" stroke="#76b83f" stroke-width="0.7">ENERGY CORP.</text>
</svg>
</body></html>
